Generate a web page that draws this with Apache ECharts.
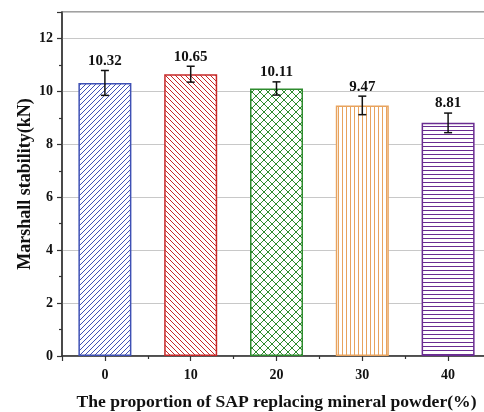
<!DOCTYPE html>
<html>
<head>
<meta charset="utf-8">
<script src="https://cdn.jsdelivr.net/npm/echarts@6/dist/echarts.min.js"></script>
<style>
  html, body { margin: 0; padding: 0; background: #fff; }
  #chart { width: 484px; height: 412px; }
</style>
</head>
<body>
<div id="chart"></div>
<script>
// SAP replacement ratio (%) and Marshall stability results
const proportions = [0, 10, 20, 30, 40];
const stability = [10.32, 10.65, 10.11, 9.47, 8.81];
const stdDev = [0.47, 0.30, 0.25, 0.35, 0.37];
const barColors = ['#3f51b5', '#c62828', '#2e8b2e', '#e8a35e', '#6a2c91'];
const hatchKinds = ['slash', 'backslash', 'cross', 'vertical', 'horizontal'];
const yTicks = [0, 2, 4, 6, 8, 10, 12];

const serif = '"Liberation Serif", "Times New Roman", serif';

// Build a repeating hatch tile on a small canvas
function hatch(kind, color) {
  const s = kind === 'cross' ? 8 : (kind === 'horizontal' ? 4 : (kind === 'vertical' ? 4.5 : 5));
  const c = document.createElement('canvas');
  c.width = s; c.height = s;
  const g = c.getContext('2d');
  g.fillStyle = '#ffffff';
  g.fillRect(0, 0, s, s);
  g.strokeStyle = color;
  g.lineWidth = 1;
  g.beginPath();
  if (kind === 'slash' || kind === 'cross') {
    g.moveTo(-1, s + 1); g.lineTo(s + 1, -1);
    g.moveTo(-1, 1); g.lineTo(1, -1);
    g.moveTo(s - 1, s + 1); g.lineTo(s + 1, s - 1);
  }
  if (kind === 'backslash' || kind === 'cross') {
    g.moveTo(-1, -1); g.lineTo(s + 1, s + 1);
    g.moveTo(s - 1, -1); g.lineTo(s + 1, 1);
    g.moveTo(-1, s - 1); g.lineTo(1, s + 1);
  }
  if (kind === 'vertical') { g.moveTo(2.5, 0); g.lineTo(2.5, s); }
  if (kind === 'horizontal') { g.moveTo(0, 2.5); g.lineTo(s, 2.5); }
  g.stroke();
  return c;
}

const barData = proportions.map((p, i) => ({
  value: [p, stability[i]],
  itemStyle: {
    color: { image: hatch(hatchKinds[i], barColors[i]), repeat: 'repeat' },
    borderColor: barColors[i],
    borderWidth: 1.5
  }
}));

const errData = proportions.map((p, i) => [p, stability[i], stdDev[i]]);

const chart = echarts.init(document.getElementById('chart'), null, { renderer: 'canvas' });

chart.setOption({
  animation: false,
  grid: {
    left: 62, top: 12, right: -7, bottom: 56,
    outerBoundsMode: 'none',
    containLabel: false,
    show: true, borderColor: '#444', borderWidth: 1.2, backgroundColor: 'transparent'
  },
  xAxis: {
    type: 'value',
    min: -5, max: 45,
    splitNumber: 5,
    name: 'The proportion of SAP replacing mineral powder(%)',
    nameLocation: 'middle',
    nameGap: 37,
    nameMoveOverlap: false,
    nameTextStyle: { fontFamily: serif, fontWeight: 'bold', fontSize: 17.6, color: '#111' },
    axisLine: { onZero: false, lineStyle: { color: '#333', width: 1.5 } },
    axisTick: { show: true, length: 5, lineStyle: { color: '#333', width: 1.2 } },
    minorTick: { show: true, splitNumber: 2, length: 3, lineStyle: { color: '#333', width: 1.2 } },
    axisLabel: { fontFamily: serif, fontWeight: 'bold', fontSize: 14, color: '#111', margin: 12,
      formatter: v => (v % 10 === 0 ? String(v) : '') },
    splitLine: { show: false }
  },
  yAxis: {
    type: 'value',
    min: 0, max: 13, interval: 2,
    name: 'Marshall stability(kN)',
    nameLocation: 'middle',
    nameGap: 28,
    nameMoveOverlap: false,
    nameTextStyle: { fontFamily: serif, fontWeight: 'bold', fontSize: 18, color: '#111' },
    axisLine: { show: true, onZero: false, lineStyle: { color: '#333', width: 1.5 } },
    axisTick: { show: true, length: 5, lineStyle: { color: '#333', width: 1.2 } },
    minorTick: { show: true, splitNumber: 2, length: 3, lineStyle: { color: '#333', width: 1.2 } },
    axisLabel: { fontFamily: serif, fontWeight: 'bold', fontSize: 14, color: '#111', margin: 9,
      showMaxLabel: false,
      formatter: v => (yTicks.indexOf(v) >= 0 ? String(v) : '') },
    splitLine: { show: true, lineStyle: { color: '#c8c8c8', width: 1 } }
  },
  series: [
    { type: 'bar', barWidth: 53, data: barData, z: 2 },
    {
      // error bars with caps, plus the mean value written above
      type: 'custom',
      z: 5,
      data: errData,
      encode: { x: 0, y: 1 },
      renderItem: function (params, api) {
        const x = api.value(0), m = api.value(1), e = api.value(2);
        const top = api.coord([x, m + e]);
        const bot = api.coord([x, m - e]);
        const cap = 4;
        const style = { stroke: '#111', lineWidth: 1.5 };
        return {
          type: 'group',
          children: [
            { type: 'line', shape: { x1: top[0], y1: top[1], x2: bot[0], y2: bot[1] }, style },
            { type: 'line', shape: { x1: top[0] - cap, y1: top[1], x2: top[0] + cap, y2: top[1] }, style },
            { type: 'line', shape: { x1: bot[0] - cap, y1: bot[1], x2: bot[0] + cap, y2: bot[1] }, style },
            { type: 'text', x: top[0], y: top[1] - 2,
              style: { text: m.toFixed(2), fill: '#111', font: 'bold 15px ' + serif,
                       textAlign: 'center', textVerticalAlign: 'bottom' } }
          ]
        };
      }
    }
  ]
});
</script>
</body>
</html>
